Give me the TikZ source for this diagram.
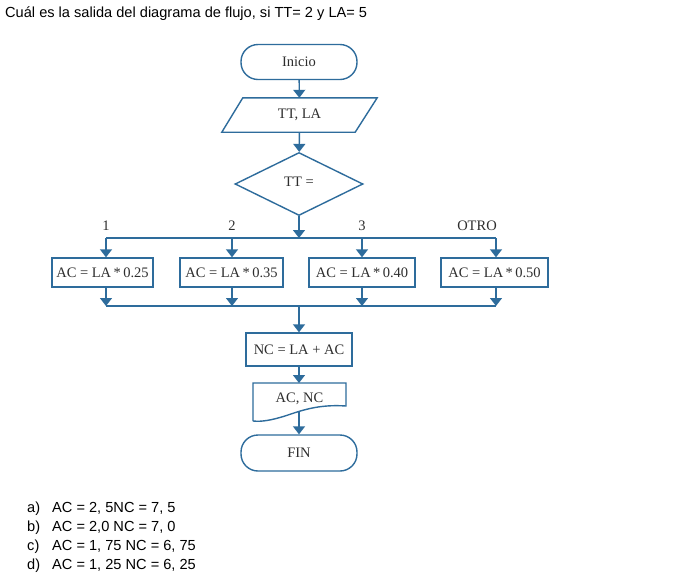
\documentclass[tikz,border=0pt]{standalone}
\usepackage{fontspec}
\setmainfont{Liberation Sans}
\newfontfamily\fcfont{Liberation Serif}
\usetikzlibrary{shapes.geometric,arrows.meta}
\definecolor{fcblue}{HTML}{2E6C9C}
\definecolor{fctext}{HTML}{2E2E2E}
\tikzset{
  conn/.style={draw=fcblue, line width=1.4pt},
  arr/.style={conn, -{Triangle[length=8pt,width=12pt]}},
  fctxt/.style={font=\fcfont\fontsize{14.5}{16}\selectfont, text=fctext},
  term/.style={fctxt, draw=fcblue, line width=1.4pt, rounded corners=17pt, minimum width=116pt, minimum height=35pt, inner sep=0pt},
  procbox/.style={fctxt, draw=fcblue, line width=1.4pt, minimum height=29pt, inner sep=0pt},
  decis/.style={fctxt, draw=fcblue, line width=1.4pt, diamond, minimum width=128pt, minimum height=63pt, inner sep=0pt},
  caselbl/.style={font=\fcfont\fontsize{14.5}{16}\selectfont, text=fctext},
  qtext/.style={font=\fontsize{14.6}{17}\selectfont, anchor=base west, inner sep=0pt},
}
\begin{document}
\begin{tikzpicture}[x=1pt,y=-1pt]
\useasboundingbox[fill=white] (0,0) rectangle (697,582);
\node[qtext] (title) at (5,17) {Cuál es la salida del diagrama de flujo, si TT= 2 y LA= 5};

\node[term] (ini) at (299,62) {Inicio};
\node[fctxt, minimum width=134pt, minimum height=34pt, inner sep=0pt] (inp) at (299.5,115) {TT, LA};
\draw[conn] ([xshift=10.5pt]inp.north west) -- ([xshift=10.5pt]inp.north east) -- ([xshift=-11.5pt]inp.south east) -- ([xshift=-10.5pt]inp.south west) -- cycle;
\node[decis] (dec) at (299,184) {};
\node[fctxt] (dect) at (299,182) {TT =};

\coordinate (sp) at (299,238);
\coordinate (s1) at (106,238);
\coordinate (s4) at (496,238);
\coordinate (s2) at (232,238);
\coordinate (s3) at (362,238);

\node[caselbl] (l1) at (106,226) {1};
\node[caselbl] (l2) at (232,226) {2};
\node[caselbl] (l3) at (362,226) {3};
\node[caselbl] (l4) at (477,226) {OTRO};

\node[procbox, minimum width=101pt] (b1) at (102.5,272.5) {AC = LA\,*\,0.25};
\node[procbox, minimum width=103pt] (b2) at (231.5,272.5) {AC = LA\,*\,0.35};
\node[procbox, minimum width=106pt] (b3) at (362,272.5) {AC = LA\,*\,0.40};
\node[procbox, minimum width=107pt] (b4) at (494.5,272.5) {AC = LA\,*\,0.50};

\coordinate (m1) at (106,306);
\coordinate (m2) at (232,306);
\coordinate (m3) at (362,306);
\coordinate (m4) at (496,306);
\coordinate (mc) at (299,306);

\node[procbox, minimum width=106pt, minimum height=33pt] (nc) at (299,349.5) {NC = LA + AC};
\node[fctxt, minimum width=93pt, minimum height=24pt, inner sep=0pt] (out) at (299.5,399) {AC, NC};
\draw[conn] (253,421) -- (253,383) -- (346,383) -- (346,406) .. controls (318,404) and (300,411) .. (285,416) .. controls (272,420) and (262,422) .. (253,421);
\coordinate (outt) at (299,383);
\coordinate (outb) at (299,412);
\node[term, minimum height=36pt] (fin) at (299,453) {FIN};

\draw[arr] (ini) -- (inp);
\draw[arr] (inp) -- (dec);
\draw[arr] (dec) -- (sp);
\draw[conn] (s1) -- (s4);
\draw[arr] (s1) -- (b1.north -| s1);
\draw[arr] (s2) -- (b2.north -| s2);
\draw[arr] (s3) -- (b3);
\draw[arr] (s4) -- (b4.north -| s4);
\draw[arr] (b1.south -| m1) -- (m1);
\draw[arr] (b2.south -| m2) -- (m2);
\draw[arr] (b3) -- (m3);
\draw[arr] (b4.south -| m4) -- (m4);
\draw[conn] (m1) -- (m4);
\draw[arr] (mc) -- (nc);
\draw[arr] (nc) -- (outt);
\draw[arr] (outb) -- (fin);

\node[qtext] (oa) at (27,512) {a)};
\node[qtext] (ob) at (27,531) {b)};
\node[qtext] (oc) at (27,550) {c)};
\node[qtext] (od) at (27,569) {d)};
\node[qtext] (ta) at (52,512) {AC = 2, 5NC = 7, 5};
\node[qtext] (tb) at (52,531) {AC = 2,0 NC = 7, 0};
\node[qtext] (tc) at (52,550) {AC = 1, 75 NC = 6, 75};
\node[qtext] (td) at (52,569) {AC = 1, 25 NC = 6, 25};
\end{tikzpicture}
\end{document}
